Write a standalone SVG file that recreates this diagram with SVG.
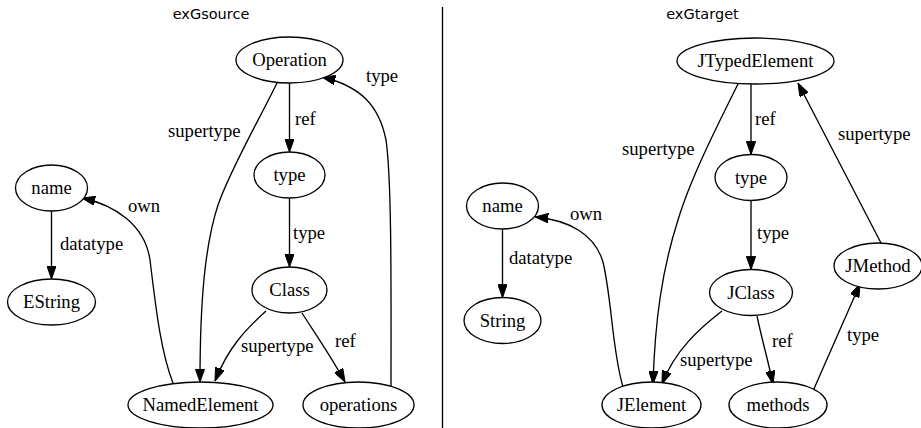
<svg xmlns="http://www.w3.org/2000/svg" width="921" height="428" viewBox="0 0 921 428">
<style>
.n ellipse{fill:#fff;stroke:#000;stroke-width:1.33}
.n text,.lbl{font-family:"Liberation Serif","Times New Roman",serif;font-size:18.67px;fill:#000}
.n text{text-anchor:middle}
.e path{fill:none;stroke:#000;stroke-width:1.33;marker-end:url(#ah)}
.title{font-family:"DejaVu Sans",sans-serif;font-size:14.5px;text-anchor:middle;fill:#000}
</style>
<defs>
<marker id="ah" markerUnits="userSpaceOnUse" viewBox="0 0 13.3 9.4" refX="13.3" refY="4.7" markerWidth="13.3" markerHeight="9.4" orient="auto">
<path d="M0,0 L13.3,4.7 L0,9.4 z" fill="#000" stroke="#000" stroke-width="1"/>
</marker>
</defs>
<rect width="921" height="428" fill="#fff"/>
<text class="title" x="211" y="19">exGsource</text>
<text class="title" x="702.5" y="19">exGtarget</text>
<line x1="442.5" y1="7" x2="442.5" y2="428" stroke="#000" stroke-width="1.33"/>

<g id="connectors" class="e">
<path d="M289.5,83 L289.5,152"/>
<path d="M289.5,198 L289.5,267"/>
<path d="M277,83 C260,118 230,170 218,205 C205,245 200,300 200,382"/>
<path d="M266,311 C245,330 228,348 215,381"/>
<path d="M302,313 C318,338 332,358 345,382"/>
<path d="M391,387 C391,300 392,180 386,140 C379,105 360,86 322,77"/>
<path d="M51.5,211 L51.5,279"/>
<path d="M173,383 C160,350 155,300 150,260 C145,225 115,205 82,198"/>
<path d="M751,84 L751,154.5"/>
<path d="M751,200.5 L751,269.5"/>
<path d="M738,84 C715,130 690,180 678,220 C662,270 655,320 653,384"/>
<path d="M881,243 L798,83"/>
<path d="M722,311 C700,328 675,350 662,384"/>
<path d="M757,316 C762,340 768,360 773,384"/>
<path d="M813,391 L860,284"/>
<path d="M623,387 C612,350 612,300 603,262 C595,235 570,220 535,217"/>
<path d="M502.5,229 L502.5,297.5"/>
</g>

<g id="edge-labels">
<text class="lbl" x="295" y="125">ref</text>
<text class="lbl" x="293" y="239">type</text>
<text class="lbl" x="168" y="137">supertype</text>
<text class="lbl" x="241" y="352">supertype</text>
<text class="lbl" x="335" y="347">ref</text>
<text class="lbl" x="366" y="82">type</text>
<text class="lbl" x="60" y="250">datatype</text>
<text class="lbl" x="128" y="212">own</text>
<text class="lbl" x="755" y="125">ref</text>
<text class="lbl" x="757" y="239">type</text>
<text class="lbl" x="622" y="155">supertype</text>
<text class="lbl" x="838" y="140">supertype</text>
<text class="lbl" x="680" y="366">supertype</text>
<text class="lbl" x="772" y="347">ref</text>
<text class="lbl" x="847" y="341">type</text>
<text class="lbl" x="570" y="220">own</text>
<text class="lbl" x="509" y="264">datatype</text>
</g>

<g id="Operation" class="n"><ellipse cx="289.5" cy="60" rx="53.5" ry="23"/><text x="289.5" y="66">Operation</text></g>
<g id="type_src" class="n"><ellipse cx="289.5" cy="175" rx="35.5" ry="23"/><text x="289.5" y="181">type</text></g>
<g id="Class" class="n"><ellipse cx="289.5" cy="290" rx="37.5" ry="23"/><text x="289.5" y="296">Class</text></g>
<g id="name_src" class="n"><ellipse cx="51.5" cy="188" rx="36" ry="23"/><text x="51.5" y="194">name</text></g>
<g id="EString" class="n"><ellipse cx="51.5" cy="302" rx="44" ry="23"/><text x="51.5" y="308">EString</text></g>
<g id="NamedElement" class="n"><ellipse cx="200.5" cy="405" rx="72.5" ry="23"/><text x="200.5" y="411">NamedElement</text></g>
<g id="operations" class="n"><ellipse cx="358.5" cy="405" rx="55.5" ry="23"/><text x="358.5" y="411">operations</text></g>

<g id="JTypedElement" class="n"><ellipse cx="755.5" cy="61" rx="78.5" ry="23"/><text x="755.5" y="67">JTypedElement</text></g>
<g id="type_tgt" class="n"><ellipse cx="751" cy="177.5" rx="36" ry="23"/><text x="751" y="183.5">type</text></g>
<g id="JClass" class="n"><ellipse cx="751" cy="292.5" rx="41.5" ry="23"/><text x="751" y="298.5">JClass</text></g>
<g id="name_tgt" class="n"><ellipse cx="502.5" cy="206" rx="36" ry="23"/><text x="502.5" y="212">name</text></g>
<g id="String" class="n"><ellipse cx="502.5" cy="320.5" rx="38.5" ry="23"/><text x="502.5" y="326.5">String</text></g>
<g id="JMethod" class="n"><ellipse cx="878" cy="266" rx="44" ry="23"/><text x="878" y="272">JMethod</text></g>
<g id="JElement" class="n"><ellipse cx="651.5" cy="405" rx="49.5" ry="23"/><text x="651.5" y="411">JElement</text></g>
<g id="methods" class="n"><ellipse cx="778" cy="405" rx="49" ry="23"/><text x="778" y="411">methods</text></g>
</svg>
